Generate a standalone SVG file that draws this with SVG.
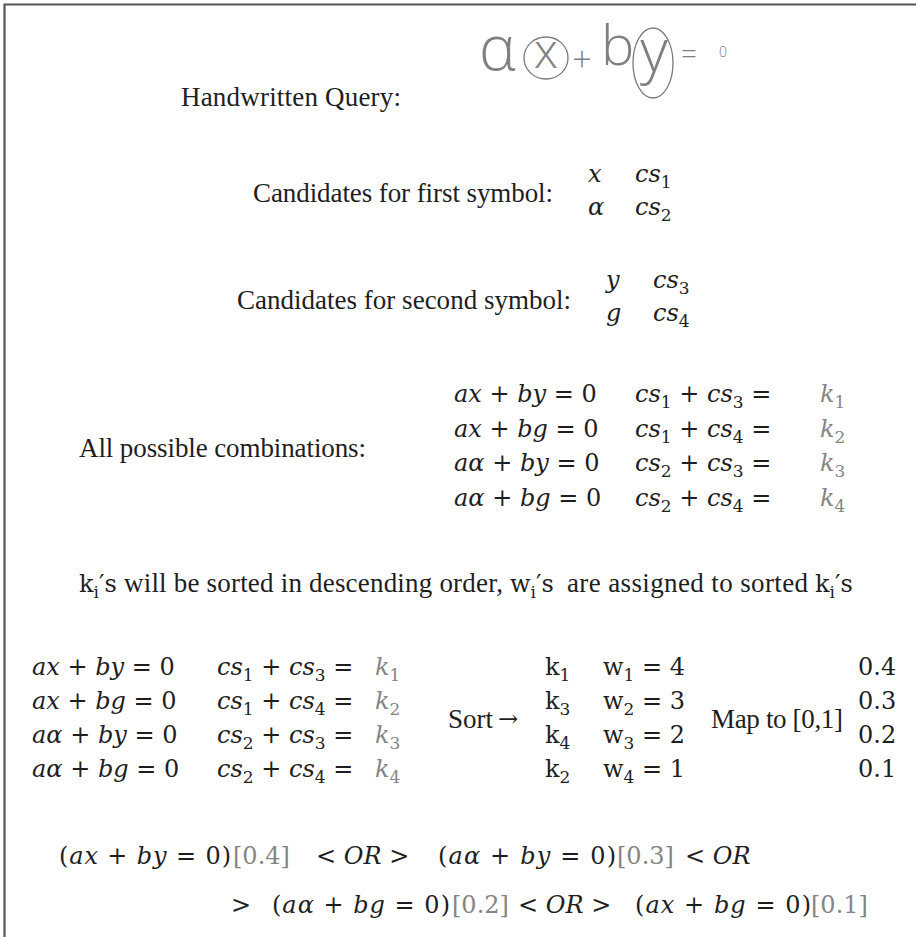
<svg xmlns="http://www.w3.org/2000/svg" width="916" height="937" viewBox="0 0 916 937">
<style>
.p{font-family:"Liberation Serif","Times New Roman",serif;font-size:27px;fill:#1e1e1e}
.m{font-family:"DejaVu Serif",serif;font-size:24px;fill:#1e1e1e}
.i{font-style:italic}
.g{fill:#858585}
.sb{font-size:17px}
.hw{font-family:"Open Sans","DejaVu Sans",sans-serif;font-weight:300;fill:#808080}
.ring{fill:none;stroke:#7a7a7a;stroke-width:1.3}
</style>
<rect width="916" height="937" fill="#ffffff"/>
<g id="frame"><path d="M4.5 937V4.5H916" fill="none" stroke="#555555" stroke-width="2.2"/></g>
<g id="handwritten-query">
<text class="p" x="181" y="106" textLength="220">Handwritten Query:</text>
<text class="hw" x="479" y="70" font-size="62">α</text>
<text class="hw" x="546" y="68" font-size="48" text-anchor="middle">x</text>
<ellipse class="ring" cx="546" cy="58" rx="22" ry="21"/>
<text class="hw" x="582" y="72" font-size="34" text-anchor="middle">+</text>
<text class="hw" x="601" y="65" font-size="56">b</text>
<text class="hw" x="654" y="72" font-size="60" text-anchor="middle">y</text>
<ellipse class="ring" cx="653" cy="63" rx="20" ry="35"/>
<text class="hw" x="681" y="64" font-size="28">=</text>
<text class="hw" x="719" y="57" font-size="14">0</text>
</g>
<g id="candidates-first">
<text class="p" x="253" y="202" textLength="300">Candidates for first symbol:</text>
<text class="m" y="182"><tspan class="i" x="588">x</tspan><tspan class="i" x="635">cs</tspan><tspan class="sb" dy="6">1</tspan></text>
<text class="m" y="215"><tspan class="i" x="588">α</tspan><tspan class="i" x="635">cs</tspan><tspan class="sb" dy="6">2</tspan></text>
</g>
<g id="candidates-second">
<text class="p" x="237" y="309" textLength="334">Candidates for second symbol:</text>
<text class="m" y="288"><tspan class="i" x="606">y</tspan><tspan class="i" x="653">cs</tspan><tspan class="sb" dy="6">3</tspan></text>
<text class="m" y="321"><tspan class="i" x="606">g</tspan><tspan class="i" x="653">cs</tspan><tspan class="sb" dy="6">4</tspan></text>
</g>
<g id="combinations">
<text class="p" x="79" y="457" textLength="287">All possible combinations:</text>
<text class="m" y="402"><tspan x="454" class="i">ax</tspan> + <tspan class="i">by</tspan> = 0<tspan x="635" class="i">cs</tspan><tspan class="sb" dy="6">1</tspan><tspan dy="-6"> + </tspan><tspan class="i">cs</tspan><tspan class="sb" dy="6">3</tspan><tspan dy="-6"> =</tspan><tspan x="820" class="i g">k</tspan><tspan class="sb g" dy="6">1</tspan></text>
<text class="m" y="437"><tspan x="454" class="i">ax</tspan> + <tspan class="i">bg</tspan> = 0<tspan x="635" class="i">cs</tspan><tspan class="sb" dy="6">1</tspan><tspan dy="-6"> + </tspan><tspan class="i">cs</tspan><tspan class="sb" dy="6">4</tspan><tspan dy="-6"> =</tspan><tspan x="820" class="i g">k</tspan><tspan class="sb g" dy="6">2</tspan></text>
<text class="m" y="471"><tspan x="454" class="i">aα</tspan> + <tspan class="i">by</tspan> = 0<tspan x="635" class="i">cs</tspan><tspan class="sb" dy="6">2</tspan><tspan dy="-6"> + </tspan><tspan class="i">cs</tspan><tspan class="sb" dy="6">3</tspan><tspan dy="-6"> =</tspan><tspan x="820" class="i g">k</tspan><tspan class="sb g" dy="6">3</tspan></text>
<text class="m" y="506"><tspan x="454" class="i">aα</tspan> + <tspan class="i">bg</tspan> = 0<tspan x="635" class="i">cs</tspan><tspan class="sb" dy="6">2</tspan><tspan dy="-6"> + </tspan><tspan class="i">cs</tspan><tspan class="sb" dy="6">4</tspan><tspan dy="-6"> =</tspan><tspan x="820" class="i g">k</tspan><tspan class="sb g" dy="6">4</tspan></text>
</g>
<g id="sort-note">
<text class="m" y="592"><tspan x="79">k</tspan><tspan class="sb" dy="6">i</tspan><tspan dy="-6">′s</tspan></text>
<text class="p" x="124" y="592" textLength="379">will be sorted in descending order,</text>
<text class="m" y="592"><tspan x="510">w</tspan><tspan class="sb" dy="6">i</tspan><tspan dy="-6">′s</tspan></text>
<text class="p" x="567" y="592" textLength="241">are assigned to sorted</text>
<text class="m" y="592"><tspan x="815">k</tspan><tspan class="sb" dy="6">i</tspan><tspan dy="-6">′s</tspan></text>
</g>
<g id="sorted-rows">
<text class="m" y="675"><tspan x="32" class="i">ax</tspan> + <tspan class="i">by</tspan> = 0<tspan x="217" class="i">cs</tspan><tspan class="sb" dy="6">1</tspan><tspan dy="-6"> + </tspan><tspan class="i">cs</tspan><tspan class="sb" dy="6">3</tspan><tspan dy="-6"> =</tspan><tspan x="375" class="i g">k</tspan><tspan class="sb g" dy="6">1</tspan></text>
<text class="m" y="709"><tspan x="32" class="i">ax</tspan> + <tspan class="i">bg</tspan> = 0<tspan x="217" class="i">cs</tspan><tspan class="sb" dy="6">1</tspan><tspan dy="-6"> + </tspan><tspan class="i">cs</tspan><tspan class="sb" dy="6">4</tspan><tspan dy="-6"> =</tspan><tspan x="375" class="i g">k</tspan><tspan class="sb g" dy="6">2</tspan></text>
<text class="m" y="743"><tspan x="32" class="i">aα</tspan> + <tspan class="i">by</tspan> = 0<tspan x="217" class="i">cs</tspan><tspan class="sb" dy="6">2</tspan><tspan dy="-6"> + </tspan><tspan class="i">cs</tspan><tspan class="sb" dy="6">3</tspan><tspan dy="-6"> =</tspan><tspan x="375" class="i g">k</tspan><tspan class="sb g" dy="6">3</tspan></text>
<text class="m" y="777"><tspan x="32" class="i">aα</tspan> + <tspan class="i">bg</tspan> = 0<tspan x="217" class="i">cs</tspan><tspan class="sb" dy="6">2</tspan><tspan dy="-6"> + </tspan><tspan class="i">cs</tspan><tspan class="sb" dy="6">4</tspan><tspan dy="-6"> =</tspan><tspan x="375" class="i g">k</tspan><tspan class="sb g" dy="6">4</tspan></text>
</g>
<g id="sort-step">
<text class="p" x="448" y="728">Sort</text>
<text class="m" x="498" y="727" font-size="20">→</text>
</g>
<g id="weights">
<text class="m" y="675"><tspan x="545">k</tspan><tspan class="sb" dy="6">1</tspan><tspan x="603" dy="-6">w</tspan><tspan class="sb" dy="6">1</tspan><tspan dy="-6"> = 4</tspan></text>
<text class="m" y="709"><tspan x="545">k</tspan><tspan class="sb" dy="6">3</tspan><tspan x="603" dy="-6">w</tspan><tspan class="sb" dy="6">2</tspan><tspan dy="-6"> = 3</tspan></text>
<text class="m" y="743"><tspan x="545">k</tspan><tspan class="sb" dy="6">4</tspan><tspan x="603" dy="-6">w</tspan><tspan class="sb" dy="6">3</tspan><tspan dy="-6"> = 2</tspan></text>
<text class="m" y="777"><tspan x="545">k</tspan><tspan class="sb" dy="6">2</tspan><tspan x="603" dy="-6">w</tspan><tspan class="sb" dy="6">4</tspan><tspan dy="-6"> = 1</tspan></text>
</g>
<g id="map-step">
<text class="p" x="711" y="728" textLength="132">Map to [0,1]</text>
<text class="m" x="858" y="675">0.4</text>
<text class="m" x="858" y="709">0.3</text>
<text class="m" x="858" y="743">0.2</text>
<text class="m" x="858" y="777">0.1</text>
</g>
<g id="final-query">
<text class="m" x="59" y="864" textLength="172" lengthAdjust="spacing">(<tspan class="i">ax</tspan> + <tspan class="i">by</tspan> = 0)</text>
<text class="m g" x="233" y="864">[0.4]</text>
<text class="m" x="316" y="864">&lt; <tspan class="i">OR</tspan> &gt;</text>
<text class="m" x="438" y="864" textLength="178" lengthAdjust="spacing">(<tspan class="i">aα</tspan> + <tspan class="i">by</tspan> = 0)</text>
<text class="m g" x="617" y="864">[0.3]</text>
<text class="m" x="685" y="864">&lt; <tspan class="i">OR</tspan></text>
<text class="m" x="231" y="913">&gt;</text>
<text class="m" x="272" y="913" textLength="178" lengthAdjust="spacing">(<tspan class="i">aα</tspan> + <tspan class="i">bg</tspan> = 0)</text>
<text class="m g" x="452" y="913">[0.2]</text>
<text class="m" x="518" y="913">&lt; <tspan class="i">OR</tspan> &gt;</text>
<text class="m" x="635" y="913" textLength="176" lengthAdjust="spacing">(<tspan class="i">ax</tspan> + <tspan class="i">bg</tspan> = 0)</text>
<text class="m g" x="811" y="913">[0.1]</text>
</g>
</svg>
